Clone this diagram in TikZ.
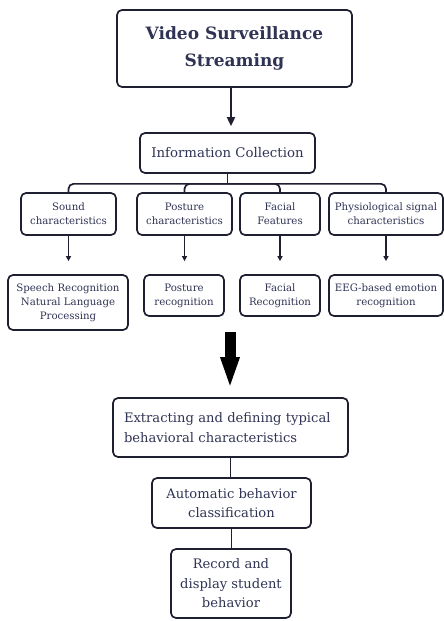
\documentclass[tikz,border=0pt]{standalone}
\usepackage{fontspec}
\setmainfont{DejaVu Serif}
\usetikzlibrary{arrows.meta,calc}
\definecolor{txt}{RGB}{48,51,84}
\definecolor{brd}{RGB}{30,32,50}
\tikzset{
  box/.style={draw=brd, line width=1.7pt, rounded corners=5pt, text=txt, align=center, inner sep=1pt, fill=white},
  sm/.style={box, font=\fontsize{10.2}{14}\selectfont},
  mid/.style={box, font=\fontsize{13.1}{19.5}\selectfont},
  ln/.style={draw=brd, line width=1.7pt},
  arr/.style={ln, -{Triangle[width=5pt,length=5pt]}},
}
\begin{document}
\begin{tikzpicture}[x=1pt,y=-1pt]
\useasboundingbox (0,0) rectangle (444,621);
\node[box, minimum width=235pt, minimum height=77pt, font=\fontsize{17}{27}\selectfont\bfseries] (top) at (234.5,48.5) {Video Surveillance\\Streaming};
\node[box, minimum width=175pt, minimum height=40pt, font=\fontsize{13.3}{16}\selectfont] (ic) at (227.5,153) {Information Collection};
\node[sm, minimum width=95pt, minimum height=42pt] (sound) at (68.5,214) {Sound\\characteristics};
\node[sm, minimum width=95pt, minimum height=42pt] (posture) at (184.5,214) {Posture\\characteristics};
\node[sm, minimum width=80pt, minimum height=42pt] (facial) at (280,214) {Facial\\Features};
\node[sm, minimum width=114pt, minimum height=42pt] (physio) at (386,214) {Physiological signal\\characteristics};
\node[sm, minimum width=120pt, minimum height=55pt] (speech) at (68,302.5) {Speech Recognition\\Natural Language\\Processing};
\node[sm, minimum width=80pt, minimum height=41pt] (posrec) at (184,295.5) {Posture\\recognition};
\node[sm, minimum width=80pt, minimum height=41pt] (facrec) at (280,295.5) {Facial\\Recognition};
\node[sm, minimum width=114pt, minimum height=41pt] (eeg) at (386,295.5) {EEG-based emotion\\recognition};
\node[mid, align=left, text width=213pt, inner xsep=11pt, minimum height=59pt, font=\fontsize{13.1}{20}\selectfont] (extract) at (230.5,427.5) {Extracting and defining typical\\behavioral characteristics};
\node[mid, minimum width=159pt, minimum height=50pt] (auto) at (231.5,503) {Automatic behavior\\classification};
\node[mid, minimum width=120pt, minimum height=69pt] (record) at (231,583.5) {Record and\\display student\\behavior};
% top arrow
\draw[ln, -{Triangle[width=8pt,length=9pt]}, shorten >=6pt] ([xshift=-3.5pt]top.south) -- ([xshift=-3.5pt]top.south |- ic.north);
% bus
\coordinate (bus) at ($(ic.south)+(0,10)$);
\draw[ln] (ic.south) -- (bus);
\draw[ln, rounded corners=5pt] (sound.north) |- (bus) -| (physio.north);
\draw[ln, rounded corners=5pt] (bus) -| (posture.north);
\draw[ln, rounded corners=5pt] (bus) -| (facial.north);
% small arrows
\draw[arr, shorten >=13pt] (sound.south) -- (sound.south |- speech.north);
\draw[arr, shorten >=13pt] (posture.south) -- (posture.south |- posrec.north);
\draw[arr, shorten >=13pt] (facial.south) -- (facial.south |- facrec.north);
\draw[arr, shorten >=13pt] (physio.south) -- (physio.south |- eeg.north);
% big arrow
\coordinate (bigtop) at (230,332);
\draw[line width=11pt, black, -{Triangle[width=17pt,length=32pt]}, shorten >=8pt] (bigtop) -- (bigtop |- extract.north);
% lower links
\draw[ln] (extract.south) -- (extract.south |- auto.north);
\draw[ln] (auto.south) -- (auto.south |- record.north);
\end{tikzpicture}
\end{document}
